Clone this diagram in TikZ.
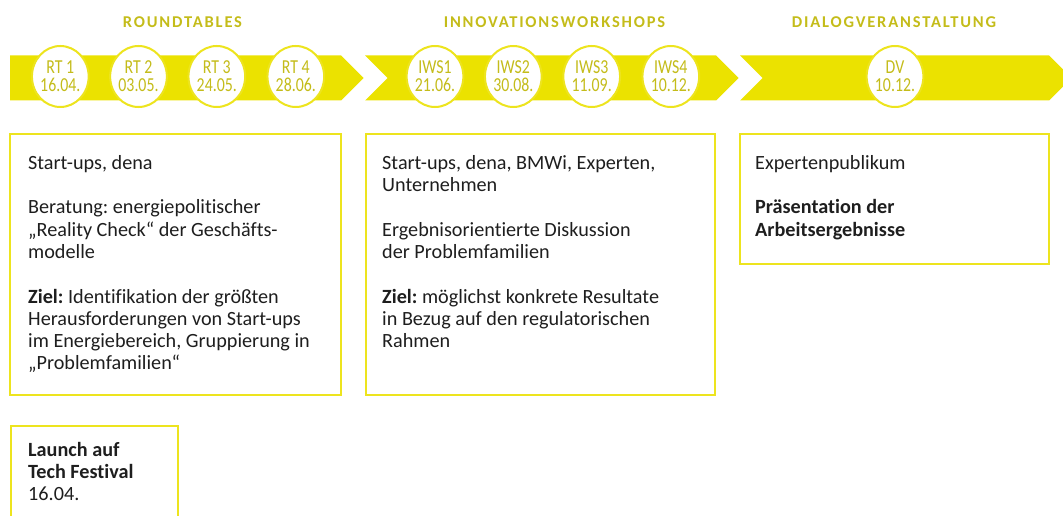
\documentclass[tikz,border=0pt]{standalone}
\usepackage{fontspec}
\usepackage{graphicx}
\setmainfont{Carlito}[Ligatures=NoCommon]
\newfontfamily\headfont[LetterSpace=11]{Carlito}
\usetikzlibrary{shapes.geometric}
\frenchspacing

\definecolor{bandyellow}{HTML}{EBE200}
\definecolor{lineyellow}{HTML}{EDE41E}
\definecolor{labelolive}{HTML}{C4BC1A}
\definecolor{bodytext}{HTML}{1E1E1E}

% slightly condensed, tall figures inside the date circles
\newcommand{\stoptext}[1]{\scalebox{0.88}[1.1]{#1}}

\tikzset{
  bandpart/.style={fill=bandyellow, draw=none},
  datestop/.style={ellipse, draw=lineyellow, line width=2pt, fill=white,
    minimum width=54pt, minimum height=61pt, inner sep=0pt,
    text=labelolive, align=center, font=\fontsize{18}{18}\selectfont},
  phasehead/.style={text=labelolive, inner sep=0pt,
    font=\headfont\bfseries\fontsize{16.5}{16.5}\selectfont},
  infobox/.style={draw=lineyellow, line width=2pt},
  infotext/.style={anchor=north west, inner sep=0pt, align=left,
    text=bodytext, font=\fontsize{20.2}{22.3}\selectfont},
}

\begin{document}
\begin{tikzpicture}[x=1pt, y=-1pt]
  \useasboundingbox (0,0) rectangle (1063,516);
  \clip (0,0) rectangle (1063,516);

  % phase titles
  \node[phasehead] (hRT)  at (182.5,22) {ROUNDTABLES};
  \node[phasehead] (hIWS) at (554.5,22) {INNOVATIONSWORKSHOPS};
  \node[phasehead] (hDV)  at (894,22)   {DIALOGVERANSTALTUNG};

  % chevron band
  \fill[bandpart] (10,55.5) -- (341,55.5) -- (363.5,78) -- (341,100.5)
        -- (10,100.5) -- cycle;
  \fill[bandpart] (365,55.5) -- (716,55.5) -- (738.5,78) -- (716,100.5)
        -- (365,100.5) -- (387.5,78) -- cycle;
  \fill[bandpart] (740,55.5) -- (1049,55.5) -- (1071.5,78) -- (1049,100.5)
        -- (740,100.5) -- (762.5,78) -- cycle;

  % event dates
  \node[datestop] (rt1)  at (60.3,76.5)  {\stoptext{RT 1}\\\stoptext{16.04.}};
  \node[datestop] (rt2)  at (138.5,76.5) {\stoptext{RT 2}\\\stoptext{03.05.}};
  \node[datestop] (rt3)  at (216.8,76.5) {\stoptext{RT 3}\\\stoptext{24.05.}};
  \node[datestop] (rt4)  at (295.8,76.5) {\stoptext{RT 4}\\\stoptext{28.06.}};
  \node[datestop] (iws1) at (435,76.5)   {\stoptext{IWS1}\\\stoptext{21.06.}};
  \node[datestop] (iws2) at (513.3,76.5) {\stoptext{IWS2}\\\stoptext{30.08.}};
  \node[datestop] (iws3) at (591.7,76.5) {\stoptext{IWS3}\\\stoptext{11.09.}};
  \node[datestop] (iws4) at (670.8,76.5) {\stoptext{IWS4}\\\stoptext{10.12.}};
  \node[datestop] (dv)   at (895,76.5)   {\stoptext{DV}\\\stoptext{10.12.}};

  % description boxes
  \draw[infobox] (10,134) rectangle (341,395);
  \draw[infobox] (365.5,134) rectangle (715,395);
  \draw[infobox] (739.5,134) rectangle (1049,264);
  \draw[infobox] (11,425.5) rectangle (178,540);

  \node[infotext] (tRT) at (28,154) {\rule{0pt}{15pt}Start-ups, dena\\[22.3pt]
    Beratung: energiepolitischer\\
    „Reality Check“ der Geschäfts-\\
    modelle\\[22.3pt]
    \textbf{Ziel:} Identifikation der größten\\
    Herausforderungen von Start-ups\\
    im Energiebereich, Gruppierung in\\
    „Problemfamilien“};

  \node[infotext] (tIWS) at (382,154) {\rule{0pt}{15pt}Start-ups, dena, BMWi, Experten,\\
    Unternehmen\\[22.3pt]
    Ergebnisorientierte Diskussion\\
    der Problemfamilien\\[22.3pt]
    \textbf{Ziel:} möglichst konkrete Resultate\\
    in Bezug auf den regulatorischen\\
    Rahmen};

  \node[infotext] (tDV) at (755,154) {\rule{0pt}{15pt}Expertenpublikum\\[22.3pt]
    \textbf{Präsentation der}\\
    \textbf{Arbeitsergebnisse}};

  \node[infotext] (tLaunch) at (28,441) {\rule{0pt}{15pt}\textbf{Launch auf}\\
    \textbf{Tech Festival}\\
    16.04.};
\end{tikzpicture}
\end{document}
